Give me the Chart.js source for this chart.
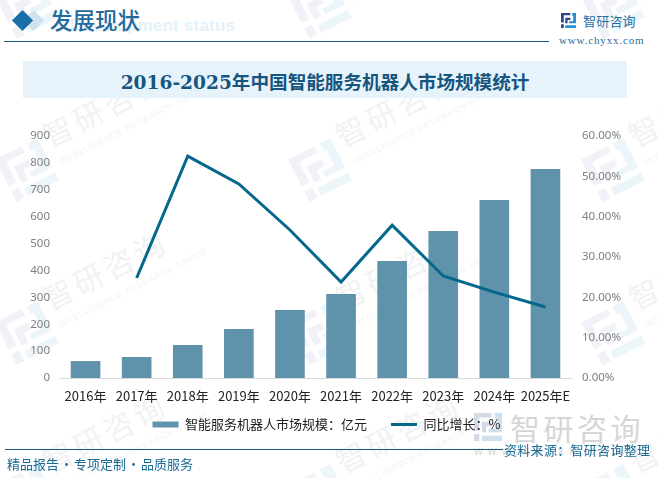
<!DOCTYPE html>
<html>
<head>
<meta charset="utf-8">
<script src="https://cdn.jsdelivr.net/npm/chart.js@4"></script>
<style>
  html, body { margin: 0; padding: 0; background: #fff; }
  #page { position: relative; width: 658px; height: 478px; overflow: hidden; font-family: "Noto Sans CJK SC", sans-serif; }
  #page div { position: absolute; white-space: nowrap; }
  canvas { position: absolute; left: 0; top: 0; }
  .wm { width: 0; height: 0; transform: rotate(-27deg); }
  .wm svg { position: absolute; left: -24px; top: -24px; width: 48px; height: 48px; --a: #f0f2f7; --b: #ecf5fa; }
  #page .wm b { position: absolute; left: 30px; top: -44px; font-weight: 400; font-size: 30px; letter-spacing: 4px; color: #f0f2f4; }
  #page .wm i { position: absolute; left: 32px; top: 3px; font: 8.5px "Liberation Sans"; letter-spacing: .8px; color: #f2f4f6; }
</style>
</head>
<body>
<svg width="0" height="0" style="position:absolute">
  <symbol id="logo" viewBox="0 0 16 16">
    <path fill="var(--a)" d="M0 0H10V2.5H3V10H0ZM4.5 5H10V7.5H7V11H4.5ZM0 12H3V16H0Z"/>
    <path fill="var(--b)" d="M12 0H16V11H8.5V8.8H13V3H12ZM4.5 13H16V16H4.5Z"/>
  </symbol>
</svg>
<div id="page">
  <div id="marks"></div>
  <div style="left:70px;top:16px;font:700 17px 'Liberation Sans';letter-spacing:.2px;color:#e4f1fa">Development status</div>
  <div style="left:26px;top:13px;width:15px;height:15px;background:#cfe2ef;transform:rotate(45deg)"></div>
  <div style="left:15px;top:13px;width:15px;height:15px;background:#1a6fa8;transform:rotate(45deg)"></div>
  <div style="left:50px;top:3px;font:500 22.5px 'Noto Sans CJK SC';color:#1f6a9e">发展现状</div>
  <div style="left:4px;top:41px;width:545px;height:1px;background:#1a5a84"></div>
  <svg style="position:absolute;left:561px;top:13px;width:15px;height:15px;--a:#2b4a8c;--b:#2a8fd0"><use href="#logo"/></svg>
  <div style="left:583px;top:11px;font:13px 'Noto Sans CJK SC';letter-spacing:.2px;color:#1f6fa5">智研咨询</div>
  <div style="left:559px;top:34px;font:11px 'Liberation Serif';letter-spacing:.85px;color:#2b6c9c">www.chyxx.com</div>
  <div style="left:23px;top:61px;width:604px;height:37px;background:#e6f3fb"></div>
  <div style="left:23px;top:64px;width:604px;height:37px;line-height:37px;text-align:center;font-family:'DejaVu Serif','Noto Sans CJK SC';font-weight:700;font-size:18.6px;color:#17557f">2016-2025年中国智能服务机器人市场规模统计</div>
  <svg style="position:absolute;left:474px;top:413px;width:28px;height:28px;--a:#d5dbe6;--b:#cfe0ee"><use href="#logo"/></svg>
  <div style="left:510px;top:405px;font:400 30px 'Noto Sans CJK SC';letter-spacing:3.5px;color:#d6d6d6">智研咨询</div>
  <div style="left:474px;top:444px;font:12px 'Liberation Sans';letter-spacing:5.2px;color:#d6d6d6">www.chyxx.com</div>
  <canvas id="chart" width="658" height="478"></canvas>
  <div style="left:5px;top:449px;width:498px;height:1px;background:#1a5a84"></div>
  <div style="left:7px;top:454px;font:13px 'Noto Sans CJK SC';color:#1a6a96">精品报告<span style="margin:0 1px">·</span>专项定制<span style="margin:0 1px">·</span>品质服务</div>
  <div style="left:504px;top:440px;font:13px 'Noto Sans CJK SC';letter-spacing:.3px;color:#1a6a96">资料来源：智研咨询整理</div>
</div>
<script>
const years = ["2016年", "2017年", "2018年", "2019年", "2020年", "2021年", "2022年", "2023年", "2024年", "2025年E"];
const marketSize = [63, 78, 123, 182, 253, 312, 435, 547, 662, 777];
const growthRate = [null, 24.8, 55, 48.1, 36.7, 23.8, 37.9, 25.3, 21.3, 17.6];

// faint background watermarks
const markCols = [27, 320, 613];
const markRows = [7, 170, 333, 496];
markRows.forEach((y) => {
  markCols.forEach((x) => {
    const d = document.createElement("div");
    d.className = "wm";
    d.style.left = x + "px";
    d.style.top = y + "px";
    d.innerHTML = '<svg><use href="#logo"/></svg><b>智研咨询</b><i>INTELLIGENCE RESEARCH GROUP</i>';
    document.getElementById("marks").appendChild(d);
  });
});

const font = "'Noto Sans CJK SC', sans-serif";
const tickFont = { family: "'Noto Sans', sans-serif", size: 11.5 };

// the x axis box is kept short so the legend sits close, but its labels hang below it
const xLabelRoom = {
  id: "xLabelRoom",
  afterLayout: (chart) => {
    chart.scales.x.bottom += 16;
  },
};

new Chart(document.getElementById("chart"), {
  plugins: [xLabelRoom],
  data: {
    labels: years,
    datasets: [
      {
        type: "line",
        label: "同比增长：%",
        data: growthRate,
        yAxisID: "y2",
        borderColor: "#04678c",
        borderWidth: 3,
        pointRadius: 0,
        pointBorderColor: "#04678c",
        pointBorderWidth: 3,
        tension: 0,
        order: 1,
      },
      {
        type: "bar",
        label: "智能服务机器人市场规模：亿元",
        data: marketSize,
        yAxisID: "y",
        backgroundColor: "#5f93ab",
        borderWidth: 0,
        barPercentage: 1,
        categoryPercentage: 0.58,
        order: 2,
      },
    ],
  },
  options: {
    responsive: false,
    animation: false,
    layout: { padding: { left: 0, right: 5, top: 136, bottom: 37 } },
    scales: {
      x: {
        grid: { display: false, drawTicks: false },
        border: { color: "#d9d9d9", width: 1 },
        ticks: { color: "#222", font: { family: font, size: 13 }, maxRotation: 0, autoSkip: false, padding: 10 },
        afterFit: (a) => { a.height = 16; },
      },
      y: {
        min: 0,
        max: 900,
        position: "left",
        grid: { display: false, drawTicks: false },
        border: { display: false },
        ticks: { color: "#7f7f7f", font: tickFont, padding: 10, stepSize: 100 },
        afterFit: (a) => { a.width = 60; },
      },
      y2: {
        min: 0,
        max: 60,
        position: "right",
        grid: { display: false, drawTicks: false },
        border: { display: false },
        ticks: { color: "#7f7f7f", font: tickFont, padding: 11, stepSize: 10, callback: (v) => v.toFixed(2) + "%" },
        afterFit: (a) => { a.width = 82; },
      },
    },
    plugins: {
      tooltip: { enabled: false },
      legend: {
        position: "bottom",
        reverse: true,
        labels: {
          color: "#222",
          font: { family: font, size: 13 },
          usePointStyle: true,
          pointStyleWidth: 26,
          boxHeight: 6,
          padding: 24,
          generateLabels: (chart) =>
            Chart.defaults.plugins.legend.labels.generateLabels(chart).map((l) => ({
              ...l,
              pointStyle: l.datasetIndex === 0 ? "line" : "rect",
            })),
        },
      },
    },
  },
});
</script>
</body>
</html>
